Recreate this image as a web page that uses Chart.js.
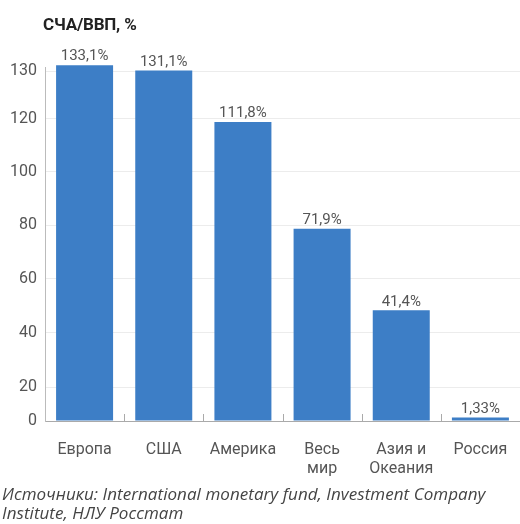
<!DOCTYPE html>
<html lang="ru">
<head>
<meta charset="utf-8">
<script src="https://cdn.jsdelivr.net/npm/chart.js@4"></script>
<style>
  html, body { margin: 0; padding: 0; background: #fff; }
  body { width: 520px; height: 524px; position: relative; overflow: hidden; font-family: Roboto, "Noto Sans", sans-serif; }
  #wrap { position: absolute; left: 0; top: 0; width: 520px; height: 524px; }
  .title { position: absolute; left: 43px; top: 14px; font-size: 17px; font-weight: 700; color: #222; letter-spacing: -0.2px; }
  .source { position: absolute; left: 2px; top: 484px; font-family: "Open Sans", Roboto, sans-serif; font-size: 17px; font-style: italic; color: #444; line-height: 19px; letter-spacing: 0.05px; white-space: nowrap; }
</style>
</head>
<body>
<div id="wrap"><canvas id="chart" width="520" height="524"></canvas></div>
<div class="title">СЧА/ВВП, %</div>
<div class="source">Источники: International monetary fund, Investment Company<br>Institute, НЛУ Росстат</div>
<script>
// categories and values (СЧА / ВВП, %)
const regions = ['Европа', 'США', 'Америка', ['Весь', 'мир'], ['Азия и', 'Океания'], 'Россия'];
const navToGdp = [133.1, 131.1, 111.8, 71.9, 41.4, 1.33];

// y axis ticks as they sit on the axis, and the text printed next to them
const yTickValues = [0, 12.7, 33, 53.2, 73.3, 93.2, 113, 130.8];
const yTickLabels = ['0', '20', '40', '60', '80', '100', '120', '130'];

const BAR = '#3d7ec6';
const TEXT = '#555';

function fmtPct(v) { return String(v).replace('.', ',') + '%'; }

// value above each bar
const barValues = {
  id: 'barValues',
  afterDatasetsDraw(chart) {
    const ctx = chart.ctx;
    const meta = chart.getDatasetMeta(0);
    ctx.save();
    ctx.font = '15px Roboto, sans-serif';
    ctx.fillStyle = TEXT;
    ctx.textAlign = 'center';
    ctx.textBaseline = 'bottom';
    meta.data.forEach((bar, i) => {
      ctx.fillText(fmtPct(navToGdp[i]), bar.x, bar.y - 1);
    });
    ctx.restore();
  }
};

// short upward marks between categories on the x axis
const catMarks = {
  id: 'catMarks',
  afterDraw(chart) {
    const x = chart.scales.x;
    const bottom = chart.chartArea.bottom;
    const ctx = chart.ctx;
    const step = x.getPixelForValue(1) - x.getPixelForValue(0);
    ctx.save();
    ctx.strokeStyle = '#aaa';
    ctx.lineWidth = 1;
    for (let i = 0; i < regions.length - 1; i++) {
      const px = Math.round(x.getPixelForValue(i) + step / 2) + 0.5;
      ctx.beginPath();
      ctx.moveTo(px, bottom);
      ctx.lineTo(px, bottom - 7);
      ctx.stroke();
    }
    ctx.restore();
  }
};

new Chart(document.getElementById('chart'), {
  type: 'bar',
  data: {
    labels: regions,
    datasets: [{
      data: navToGdp,
      backgroundColor: BAR,
      borderWidth: 0,
      barPercentage: 0.72,
      categoryPercentage: 1,
      clip: false
    }]
  },
  options: {
    responsive: false,
    animation: false,
    layout: { padding: { top: 67, right: 0, bottom: 0, left: 0 } },
    plugins: { legend: { display: false }, tooltip: { enabled: false }, title: { display: false } },
    scales: {
      x: {
        grid: { display: false },
        border: { color: '#aaa', width: 1 },
        ticks: { color: TEXT, font: { size: 16, family: 'Roboto' }, padding: 11, maxRotation: 0, autoSkip: false },
        afterFit(scale) { scale.height = 103; }
      },
      y: {
        min: 0,
        max: 132.4,
        afterBuildTicks(scale) { scale.ticks = yTickValues.map(v => ({ value: v })); },
        grid: { color: '#ececec', drawTicks: false },
        border: { color: '#bbb', width: 1 },
        ticks: {
          color: TEXT,
          font: { size: 16, family: 'Roboto' },
          padding: 8,
          autoSkip: false,
          callback: (v, i) => yTickLabels[i]
        },
        afterFit(scale) { scale.width = 45; }
      }
    }
  },
  plugins: [barValues, catMarks]
});
</script>
</body>
</html>
